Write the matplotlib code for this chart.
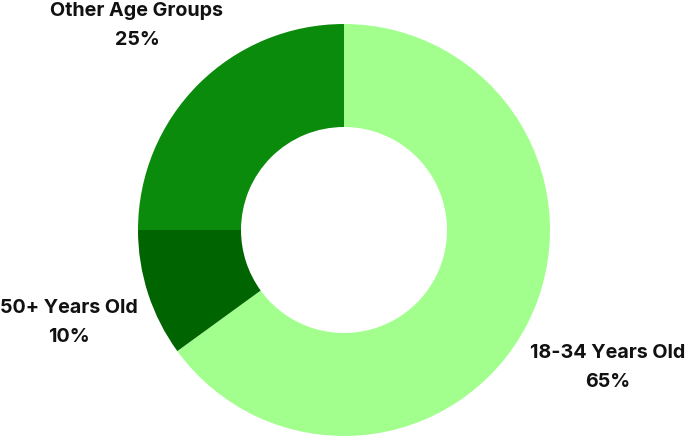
import matplotlib
matplotlib.use("Agg")
import matplotlib.pyplot as plt

categories = ["18-34 Years Old", "50+ Years Old", "Other Age Groups"]
values = [65, 10, 25]
colors = ["#a2ff8d", "#006400", "#0b8b0b"]

W, H = 686, 439
fig = plt.figure(figsize=(W / 100, H / 100), dpi=100)
ax = fig.add_axes([0, 0, 1, 1])

cx, cy, R = 344, H - 231, 206
ax.pie(values, colors=colors, startangle=90, counterclock=False,
       center=(cx, cy), radius=R, wedgeprops=dict(width=R * 0.5, linewidth=0),
       frame=True)
ax.set_xlim(0, W)
ax.set_ylim(0, H)
ax.set_aspect("equal")
ax.axis("off")

# label positions (pixel coordinates from top)
label_pos = {
    "18-34 Years Old": (608, 353),
    "50+ Years Old": (69, 308),
    "Other Age Groups": (137, 11),
}
font = dict(family=["Inter", "DejaVu Sans"], fontweight="bold", fontsize=14.2, color="#111111")
for cat, v in zip(categories, values):
    x, y = label_pos[cat]
    ax.text(x, H - y, cat, ha="center", va="center", **font)
    ax.text(x, H - (y + 29), f"{v}%", ha="center", va="center", **font)

fig.savefig("out.png", dpi=100)
